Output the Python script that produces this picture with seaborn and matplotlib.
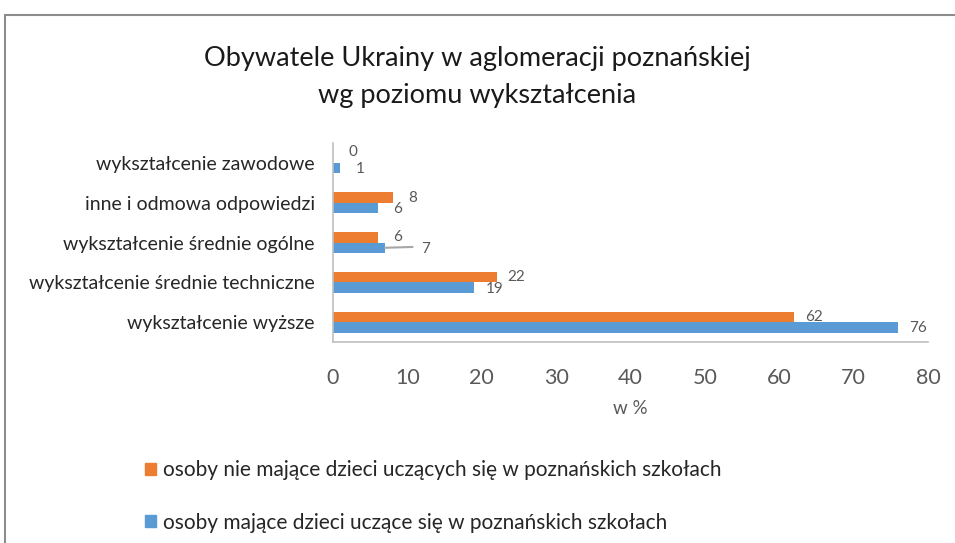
import matplotlib
matplotlib.use("Agg")
import matplotlib.pyplot as plt
import seaborn as sns
import pandas as pd
from matplotlib.patches import Rectangle

categories = [
    "wykształcenie zawodowe",
    "inne i odmowa odpowiedzi",
    "wykształcenie średnie ogólne",
    "wykształcenie średnie techniczne",
    "wykształcenie wyższe",
]
series_names = [
    "osoby nie mające dzieci uczących się w poznańskich szkołach",
    "osoby mające dzieci uczące się w poznańskich szkołach",
]
no_children = [0, 8, 6, 22, 62]
with_children = [1, 6, 7, 19, 76]
x_ticks = [0, 10, 20, 30, 40, 50, 60, 70, 80]

df = pd.DataFrame({
    "kategoria": categories * 2,
    "grupa": [series_names[0]] * 5 + [series_names[1]] * 5,
    "wartosc": no_children + with_children,
})

sns.set_style("white")
plt.rcParams["font.family"] = ["Lato", "DejaVu Sans"]

grey = "#595959"
colors = ["#ED7D31", "#5B9BD5"]

fig = plt.figure(figsize=(9.55, 5.43), dpi=100)
ax = fig.add_axes([0.3487, 0.370, 0.623, 0.3665])

sns.barplot(data=df, y="kategoria", x="wartosc", hue="grupa", order=categories,
            hue_order=series_names, palette=colors, width=0.52, orient="h",
            saturation=1, linewidth=0, ax=ax)

ax.set_xlim(0, 80)
ax.set_xticks(x_ticks)
ax.set_xlabel("w %", fontsize=13.5, color=grey, labelpad=8)
ax.set_ylabel("")
ax.tick_params(axis="x", direction="inout", length=8, width=1, color="#BFBFBF",
               labelsize=15.5, labelcolor=grey, pad=15)
ax.tick_params(axis="y", length=0, labelsize=14, labelcolor="#262626", pad=13)
for side in ["top", "right"]:
    ax.spines[side].set_visible(False)
for side in ["left", "bottom"]:
    ax.spines[side].set_color("#BFBFBF")
    ax.spines[side].set_linewidth(1.2)

# data labels (Excel-style, a bit to the right of each bar end)
for cont, vals, dy in zip(ax.containers, [no_children, with_children], [0, 1]):
    for bar, v in zip(cont, vals):
        yc = bar.get_y() + bar.get_height() / 2
        dx = 20
        ddy = -dy
        if v == 0:
            ddy = 6
        if v == 7 and cont is ax.containers[1]:
            ax.annotate("", xy=(v, yc), xytext=(v + 3.7, yc - 0.02),
                        arrowprops=dict(arrowstyle="-", color="#A6A6A6", lw=1.5,
                                        shrinkA=0, shrinkB=0))
            dx = 40
        ax.annotate(str(v), xy=(v, yc), xytext=(dx, ddy), textcoords="offset pixels",
                    ha="center", va="center", fontsize=11, color=grey)

ax.get_legend().remove()
handles = [Rectangle((0, 0), 1, 1, color=c) for c in colors]
fig.legend(handles, series_names, loc="upper left", bbox_to_anchor=(0.132, 0.187),
           frameon=False, fontsize=15, handlelength=0.55, handleheight=0.55,
           handletextpad=0.3, labelspacing=1.55, labelcolor="#262626")

fig.text(0.5, 0.858, "Obywatele Ukrainy w aglomeracji poznańskiej\nwg poziomu wykształcenia",
         ha="center", va="center", fontsize=19.5, color="#1a1a1a", linespacing=1.6)

# chart frame
fig.patches.append(Rectangle((5 / 955, -0.1), 1.2, 1.1 - 15 / 543,
                             transform=fig.transFigure, fill=False,
                             edgecolor="#8C8C8C", lw=1.5, clip_on=False))

fig.savefig("out.png", dpi=100)
